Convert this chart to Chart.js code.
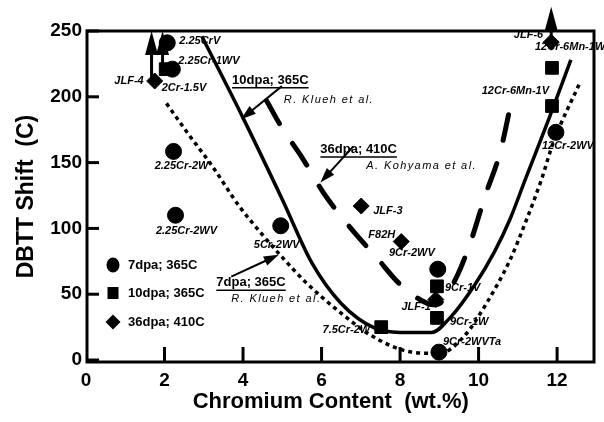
<!DOCTYPE html>
<html><head><meta charset="utf-8">
<script src="https://cdn.jsdelivr.net/npm/chart.js@4/dist/chart.umd.min.js"></script>
<style>html,body{margin:0;padding:0;background:#fff}canvas{display:block}</style>
</head><body>
<canvas id="c" width="604" height="422"></canvas>
<script>
// ---------- data ----------
const xTicks = [0, 2, 4, 6, 8, 10, 12];
const yTicks = [0, 50, 100, 150, 200, 250];

// 7dpa; 365C (circles)
const circleX = [2.07, 2.2, 2.23, 2.28, 4.96, 8.96, 8.99, 11.97];
const circleY = [241, 221, 158.5, 110, 102, 69, 6, 173];
const circleNames = ['2.25CrV', '2.25Cr-1WV', '2.25Cr-2W', '2.25Cr-2WV', '5Cr-2WV', '9Cr-2WV', '9Cr-2WVTa', '12Cr-2WV'];

// 10dpa; 365C (squares)
const squareX = [2.03, 7.52, 8.94, 8.94, 11.87, 11.87];
const squareY = [221, 25, 56, 32, 222, 193];
const squareNames = ['2Cr-1.5V', '7.5Cr-2W', '9Cr-1V', '9Cr-1W', '12Cr-6Mn-1W', '12Cr-6Mn-1V'];

// 36dpa; 410C (diamonds)
const diamondX = [1.75, 7.01, 8.03, 8.91, 11.85];
const diamondY = [212, 117, 90, 46, 241.5];
const diamondNames = ['JLF-4', 'JLF-3', 'F82H', 'JLF-1', 'JLF-6'];

// "greater than" arrows
const arrowX = [1.67, 1.95, 11.85];
const arrowFrom = [212, 221, 241.5];
const arrowTo = [250, 250, 268.5];

// trend curves
const solidX = [2.95, 4.0, 5.0, 5.75, 6.5, 7.37, 8.0, 8.8, 9.3, 9.9, 10.4, 10.8, 11.2, 11.8, 12.35];
const solidY = [246, 184, 122, 74, 43, 24, 21, 21, 33, 57, 82, 107, 138, 184, 228];

const dashX = [4.6, 5.0, 5.5, 6.05, 6.45, 6.95, 7.4, 7.95, 8.5, 8.85, 9.05, 9.47, 9.8, 10.17, 10.55, 10.86];
const dashY = [197, 176, 154, 127, 111, 93, 78, 59, 46, 42, 44, 65, 90, 125, 158, 200];

const dotX = [2.05, 2.6, 3.2, 3.9, 4.5, 5.0, 5.6, 6.4, 7.3, 8.3, 9.0, 9.6, 10.2, 10.8, 11.2, 11.6, 11.9, 12.6];
const dotY = [195, 172, 148, 117, 95, 78, 59, 38, 18, 6, 5, 17, 43, 76, 105, 137, 165, 212];

const seriesNames = ['7dpa; 365C', '10dpa; 365C', '36dpa; 410C'];
const sourceNames = ['R. Klueh et al.', 'R. Klueh et al.', 'A. Kohyama et al.'];

// ---------- layout / style (not data) ----------
const FONT = '"Liberation Sans", Arial, Helvetica, sans-serif';
const labelLayout = {
  '2.25CrV': [12, -2, 'left'], '2.25Cr-1WV': [6, -8, 'left'], '2.25Cr-2W': [8, 15, 'center'],
  '2.25Cr-2WV': [11, 16, 'center'], '5Cr-2WV': [-4, 19, 'center'], '9Cr-2WV': [-3, -16, 'right'],
  '9Cr-2WVTa': [4, -10, 'left'], '12Cr-2WV': [-14, 14, 'left'],
  '2Cr-1.5V': [-4, 19, 'left'], '7.5Cr-2W': [-11, 3, 'right'], '9Cr-1V': [8, 2, 'left'],
  '9Cr-1W': [13, 4, 'left'], '12Cr-6Mn-1W': [-17, -21, 'left'], '12Cr-6Mn-1V': [-3, -15, 'right'],
  'JLF-4': [-11, 0, 'right'], 'JLF-3': [12, 5, 'left'], 'F82H': [-6, -7, 'right'],
  'JLF-1': [-5, 7, 'right'], 'JLF-6': [-8, -7, 'right']
};
// annotation anchors in data units: [textX, textY, srcX, srcY, arrowFromX, arrowFromY, arrowToX, arrowToY]
const annot = [
  [3.32, 58.7, 3.70, 46.5, 3.70, 63.3, 4.91, 80.0],
  [3.72, 212.5, 5.04, 197.5, 4.99, 208.1, 3.95, 182.9],
  [5.97, 160.0, 7.14, 147.5, 6.81, 162.3, 5.97, 134.9]
];

function pts(xs, ys) { return xs.map((v, i) => ({x: v, y: ys[i]})); }

function arrowHead(ctx, x1, y1, x2, y2, len, w) {
  const a = Math.atan2(y2 - y1, x2 - x1);
  ctx.beginPath();
  ctx.moveTo(x2, y2);
  ctx.lineTo(x2 - len * Math.cos(a) + w / 2 * Math.sin(a), y2 - len * Math.sin(a) - w / 2 * Math.cos(a));
  ctx.lineTo(x2 - len * Math.cos(a) - w / 2 * Math.sin(a), y2 - len * Math.sin(a) + w / 2 * Math.cos(a));
  ctx.closePath();
  ctx.fill();
}
function arrow(ctx, x1, y1, x2, y2, lw, len, w) {
  const a = Math.atan2(y2 - y1, x2 - x1);
  ctx.lineWidth = lw;
  ctx.beginPath();
  ctx.moveTo(x1, y1);
  ctx.lineTo(x2 - len * 0.8 * Math.cos(a), y2 - len * 0.8 * Math.sin(a));
  ctx.stroke();
  arrowHead(ctx, x1, y1, x2, y2, len, w);
}

const deco = {
  id: 'deco',
  afterDatasetsDraw(chart) {
    const {ctx, chartArea: a, scales: {x, y}} = chart;
    ctx.save();
    ctx.fillStyle = '#000'; ctx.strokeStyle = '#000';
    // frame
    ctx.lineWidth = 3;
    ctx.strokeRect(a.left + 1, a.top, a.right - a.left - 1, a.bottom - a.top);
    // inner ticks
    ctx.lineWidth = 3;
    xTicks.forEach(v => {
      if (v === 0) return;
      const px = x.getPixelForValue(v);
      ctx.beginPath(); ctx.moveTo(px, a.bottom); ctx.lineTo(px, a.bottom - 15); ctx.stroke();
    });
    yTicks.forEach(v => {
      const py = y.getPixelForValue(v);
      ctx.beginPath(); ctx.moveTo(a.left, py); ctx.lineTo(a.left + 13, py); ctx.stroke();
    });
    // vertical arrows
    arrowX.forEach((v, i) => {
      const px = x.getPixelForValue(v);
      const p1 = y.getPixelForValue(arrowFrom[i]);
      const p2 = y.getPixelForValue(arrowTo[i]);
      arrow(ctx, px, p1, px, p2, 3, 24, 13);
    });
    // point labels
    ctx.font = 'italic bold 11px ' + FONT;
    ctx.textBaseline = 'middle';
    const lab = (xs, ys, names) => names.forEach((n, i) => {
      const L = labelLayout[n];
      ctx.textAlign = L[2];
      ctx.fillText(n, x.getPixelForValue(xs[i]) + L[0], y.getPixelForValue(ys[i]) + L[1]);
    });
    lab(circleX, circleY, circleNames);
    lab(squareX, squareY, squareNames);
    lab(diamondX, diamondY, diamondNames);
    // curve annotations
    annot.forEach((A, i) => {
      const tx = x.getPixelForValue(A[0]), ty = y.getPixelForValue(A[1]);
      ctx.font = 'bold 13px ' + FONT;
      ctx.textAlign = 'left'; ctx.textBaseline = 'middle';
      ctx.fillText(seriesNames[i], tx, ty);
      const w = ctx.measureText(seriesNames[i]).width;
      ctx.lineWidth = 1.5;
      ctx.beginPath(); ctx.moveTo(tx, ty + 7.5); ctx.lineTo(tx + w, ty + 7.5); ctx.stroke();
      ctx.font = 'italic 11px ' + FONT;
      ctx.letterSpacing = '1.4px';
      ctx.fillText(sourceNames[i], x.getPixelForValue(A[2]), y.getPixelForValue(A[3]));
      ctx.letterSpacing = '0px';
      arrow(ctx, x.getPixelForValue(A[4]), y.getPixelForValue(A[5]),
            x.getPixelForValue(A[6]), y.getPixelForValue(A[7]), 2, 15, 10);
    });
    // legend
    const lx = a.left + 27;
    const rows = [a.top + 234, a.top + 262, a.top + 291];
    ctx.font = 'bold 13px ' + FONT;
    ctx.textAlign = 'left'; ctx.textBaseline = 'middle';
    ctx.beginPath(); ctx.ellipse(lx, rows[0], 6.5, 7.5, 0, 0, Math.PI * 2); ctx.fill();
    ctx.fillRect(lx - 5.5, rows[1] - 6, 11, 12);
    ctx.beginPath(); ctx.moveTo(lx, rows[2] - 7.5); ctx.lineTo(lx + 7.5, rows[2]); ctx.lineTo(lx, rows[2] + 7.5); ctx.lineTo(lx - 7.5, rows[2]); ctx.closePath(); ctx.fill();
    seriesNames.forEach((s, i) => ctx.fillText(s, lx + 15, rows[i]));
    ctx.restore();
  }
};

const lineDs = (data, extra) => Object.assign({
  type: 'line', data, showLine: true, pointRadius: 0, borderColor: '#000',
  backgroundColor: '#000', fill: false, cubicInterpolationMode: 'monotone', order: 5
}, extra);

new Chart(document.getElementById('c'), {
  type: 'scatter',
  data: {
    datasets: [
      {label: seriesNames[0], data: pts(circleX, circleY), pointStyle: 'circle', pointRadius: 8,
       backgroundColor: '#000', borderColor: '#000', order: 1, clip: false},
      {label: seriesNames[1], data: pts(squareX, squareY), pointStyle: 'rect', pointRadius: 9,
       backgroundColor: '#000', borderColor: '#000', order: 1, clip: false},
      {label: seriesNames[2], data: pts(diamondX, diamondY), pointStyle: 'rectRot', pointRadius: 8,
       backgroundColor: '#000', borderColor: '#000', order: 1, clip: false},
      lineDs(pts(solidX, solidY), {label: 'fit 10dpa', borderWidth: 3.5}),
      lineDs(pts(dashX, dashY), {label: 'fit 36dpa', borderWidth: 5, borderDash: [26, 24], borderCapStyle: 'round'}),
      lineDs(pts(dotX, dotY), {label: 'fit 7dpa', borderWidth: 3.5, borderDash: [4, 4]})
    ]
  },
  options: {
    responsive: false, animation: false, devicePixelRatio: 1,
    layout: {padding: {top: 31, right: 7, left: 0, bottom: 0}},
    plugins: {legend: {display: false}, tooltip: {enabled: false}},
    scales: {
      x: {
        type: 'linear', min: 0, max: 12.94,
        afterBuildTicks: s => { s.ticks = xTicks.map(v => ({value: v})); },
        afterFit: s => { s.height = 60; },
        grid: {display: false, drawTicks: false}, border: {display: false},
        ticks: {color: '#000', padding: 7, font: {family: FONT, size: 19, weight: 'bold'}},
        title: {display: true, text: 'Chromium Content  (wt.%)   ', color: '#000',
                font: {family: FONT, size: 22, weight: 'bold'}, padding: {top: 0, bottom: 7}}
      },
      y: {
        type: 'linear', min: -1.5, max: 250,
        afterBuildTicks: s => { s.ticks = yTicks.map(v => ({value: v})); },
        afterFit: s => { s.width = 86; },
        grid: {display: false, drawTicks: false}, border: {display: false},
        ticks: {color: '#000', padding: 4, font: {family: FONT, size: 19, weight: 'bold'}},
        title: {display: true, text: 'DBTT Shift  (C)', color: '#000',
                font: {family: FONT, size: 23, weight: 'bold'}, padding: {top: 13, bottom: 0}}
      }
    }
  },
  plugins: [deco]
});
</script>
</body></html>
